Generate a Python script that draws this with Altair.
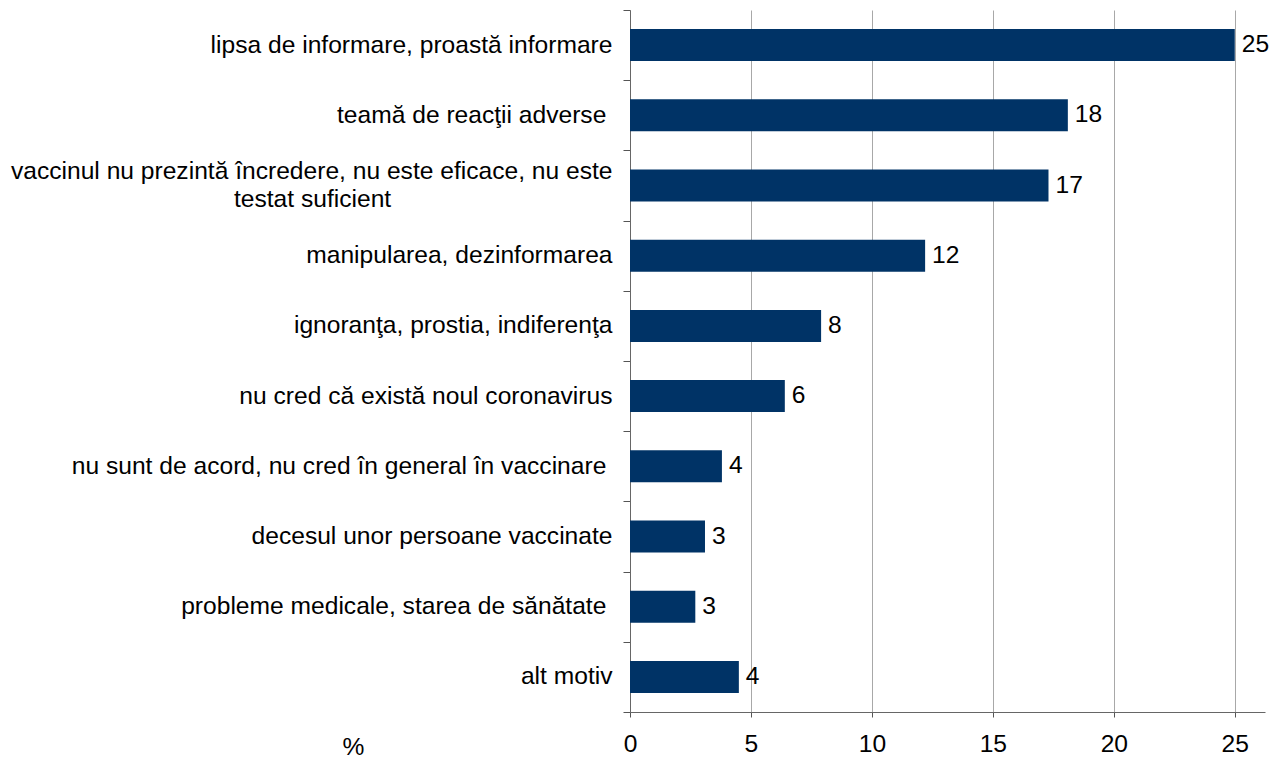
import altair as alt
import pandas as pd

EM = "\u2003"   # em space
QS = "\u2005"   # four-per-em space
ZW = "\u200b"   # zero-width space (keeps padding from being trimmed)
categories = [
    "lipsa de informare, proastă informare",
    "teamă de reacţii adverse" + QS + ZW,
    "vaccinul nu prezintă încredere, nu este eficace, nu este|" + ZW + "|testat suficient" + EM * 9 + ZW,
    "manipularea, dezinformarea",
    "ignoranţa, prostia, indiferenţa",
    "nu cred că există noul coronavirus",
    "nu sunt de acord, nu cred în general în vaccinare" + QS + ZW,
    "decesul unor persoane vaccinate",
    "probleme medicale, starea de sănătate" + QS + ZW,
    "alt motiv",
]
values = [25.0, 18.1, 17.3, 12.2, 7.9, 6.4, 3.8, 3.1, 2.7, 4.5]
value_labels = ["25", "18", "17", "12", "8", "6", "4", "3", "3", "4"]
x_ticks = [0, 5, 10, 15, 20, 25]

df = pd.DataFrame({"cat": categories, "val": values, "lab": value_labels})

FONT = "Liberation Sans"
FS = 24.6

y_enc = alt.Y(
    "cat:N",
    sort=None,
    scale=alt.Scale(paddingInner=0, paddingOuter=0),
    axis=alt.Axis(
        title=None,
        labelExpr="indexof(datum.label, '|') >= 0 ? split(datum.label, '|') : ['\u200b', datum.label]",
        labelFont=FONT,
        labelFontSize=FS,
        labelColor="#000000",
        labelLimit=800,
        labelPadding=11,
        labelLineHeight=14,
        labelOffset=-14,
        tickBand="extent",
        tickSize=7,
        tickColor="#555555",
        domainColor="#666666",
        grid=False,
    ),
)

x_enc = alt.X(
    "val:Q",
    scale=alt.Scale(domain=[0, 26.25], nice=False, zero=True),
    axis=alt.Axis(
        values=x_ticks,
        title="%",
        titleFont=FONT,
        titleFontSize=FS,
        titleFontWeight="normal",
        titleColor="#000000",
        titleX=-277,
        titleY=35,
        titleAlign="center",
        titleBaseline="middle",
        labelFont=FONT,
        labelFontSize=FS,
        labelColor="#000000",
        labelPadding=15,
        labelFlush=False,
        tickSize=5,
        tickColor="#555555",
        domainColor="#666666",
        grid=True,
        gridColor="#a8a8a8",
        gridWidth=1,
    ),
)

bars = alt.Chart(df).mark_bar(color="#003366", size=32).encode(x=x_enc, y=y_enc)

texts = alt.Chart(df).mark_text(
    align="left", baseline="middle", dx=7, font=FONT, fontSize=FS, color="#000000"
).encode(x="val:Q", y=alt.Y("cat:N", sort=None), text="lab:N")

chart = (
    alt.layer(bars, texts)
    .properties(
        width=635,
        height=702,
        autosize=alt.AutoSizeParams(type="none"),
        padding={"left": 622, "top": 2, "right": 6, "bottom": 46},
        background="white",
    )
    .configure_view(stroke=None)
)

chart.save("out.html", embed_options={"renderer": "svg", "actions": False})
